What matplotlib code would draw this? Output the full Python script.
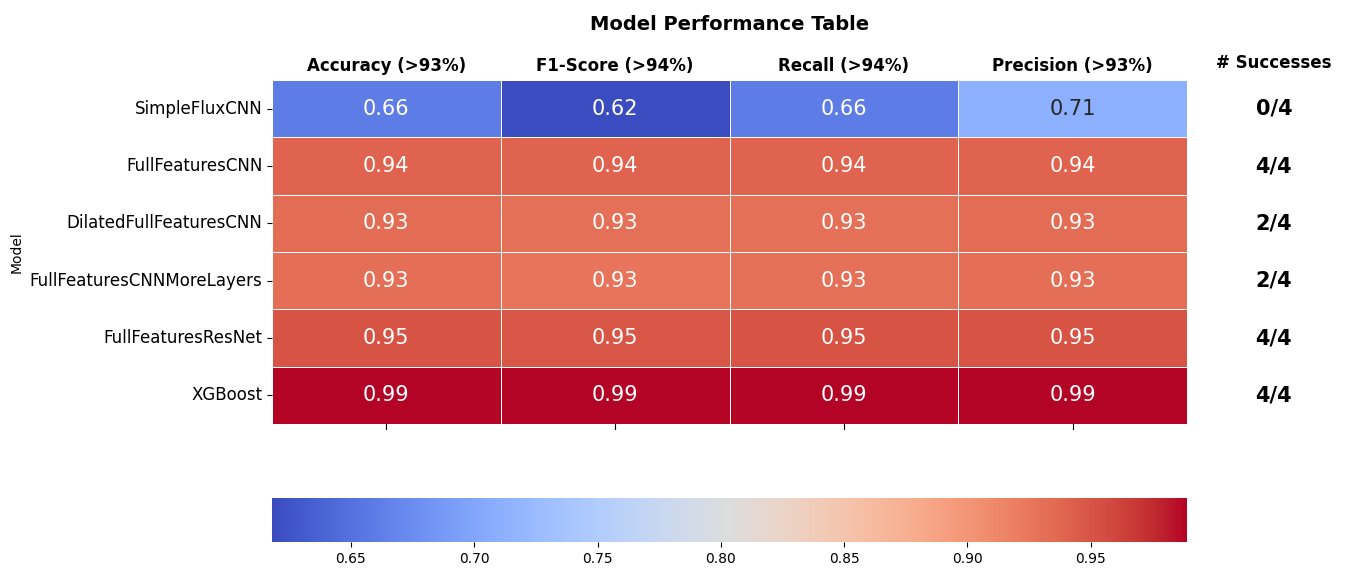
import numpy as np
import pandas as pd
import matplotlib
matplotlib.use("Agg")
import matplotlib.pyplot as plt
import seaborn as sns

models = ['SimpleFluxCNN', 'FullFeaturesCNN', 'DilatedFullFeaturesCNN',
          'FullFeaturesCNNMoreLayers', 'FullFeaturesResNet', 'XGBoost']
metrics = ['Accuracy (>93%)', 'F1-Score (>94%)', 'Recall (>94%)', 'Precision (>93%)']
accuracy = [0.660, 0.941, 0.933, 0.932, 0.950, 0.989]
f1_score = [0.618, 0.941, 0.930, 0.927, 0.949, 0.989]
recall = [0.660, 0.941, 0.930, 0.930, 0.950, 0.989]
precision = [0.710, 0.941, 0.933, 0.932, 0.950, 0.989]
successes = ['0/4', '4/4', '2/4', '2/4', '4/4', '4/4']

df = pd.DataFrame({metrics[0]: accuracy, metrics[1]: f1_score,
                   metrics[2]: recall, metrics[3]: precision}, index=models)
df.index.name = 'Model'

fig = plt.figure(figsize=(13.68, 5.77), dpi=100)
W, H = 1368, 577
ax = fig.add_axes([272 / W, 1 - 424 / H, 915 / W, 344 / H])
cax = fig.add_axes([272 / W, 1 - 542 / H, 915 / W, 44 / H])

sns.heatmap(df, ax=ax, cmap='coolwarm', annot=True, fmt='.2f',
            annot_kws={'size': 15}, linewidths=0.5, linecolor='white',
            cbar_ax=cax, cbar_kws={'orientation': 'horizontal'})

ax.xaxis.tick_top()
ax.set_xticklabels(metrics, fontsize=12, fontweight='bold')
ax.tick_params(axis='x', length=0)
ax.set_xlabel('')
ax.set_yticklabels(models, fontsize=12, rotation=0)
ax.set_ylabel('Model', fontsize=10)
# bottom tick marks
for i in range(len(metrics)):
    ax.plot([i + 0.5, i + 0.5], [6, 6.08], color='black', lw=0.8, clip_on=False)

ax.text(4.38, -0.3, '# Successes', ha='center', va='center',
        fontsize=12, fontweight='bold')
for i, s in enumerate(successes):
    ax.text(4.38, i + 0.5, s, ha='center', va='center',
            fontsize=15, fontweight='bold')

ax.set_title('Model Performance Table', fontsize=14, fontweight='bold', pad=36)
cax.tick_params(labelsize=10)

plt.savefig('out.png', dpi=100)
